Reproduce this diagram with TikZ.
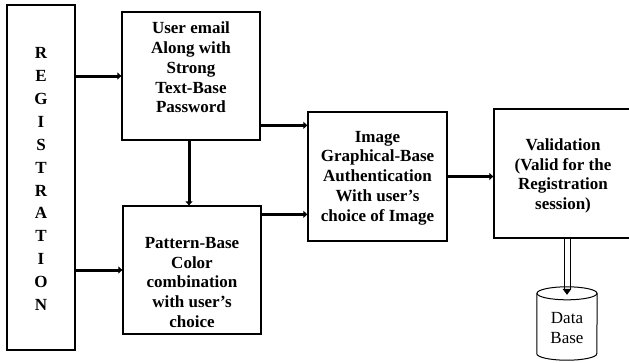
\documentclass[tikz,border=0pt]{standalone}
\usepackage{fontspec}
\setmainfont{Liberation Serif}
\usetikzlibrary{arrows.meta,calc}
\begin{document}
\begin{tikzpicture}[x=1pt,y=-1pt,
  box/.style={draw, line width=1.3pt, inner sep=0pt},
  lbl/.style={font=\fontsize{17}{19.8}\selectfont\bfseries, align=center, inner sep=0pt},
  flow/.style={line width=3pt, -{Triangle[length=4pt,width=7pt]}},
  rail/.style={line width=0.9pt},
]
\useasboundingbox (0,0) rectangle (629,362);
\clip (0,0) rectangle (629,362);

% process boxes
\node[box, minimum width=68pt,  minimum height=345pt] (reg)  at (41,177.5) {};
\node[box, minimum width=138pt, minimum height=128pt] (user) at (191,76) {};
\node[box, minimum width=138pt, minimum height=128pt] (pat)  at (192,270) {};
\node[box, minimum width=139pt, minimum height=129pt] (img)  at (377.5,176.5) {};
\node[box, minimum width=138pt, minimum height=129pt] (val)  at (563,173.5) {};

% box captions
\node[lbl, font=\fontsize{17}{22.9}\selectfont\bfseries] (regtxt) at (41,179)
  {R\\E\\G\\I\\S\\T\\R\\A\\T\\I\\O\\N};
\node[lbl] (usertxt) at (191,67.5) {User email\\Along with\\Strong\\Text-Base\\Password};
\node[lbl] (pattxt) at (192,282.5) {Pattern-Base\\Color\\combination\\with user’s\\choice};
\node[lbl] (imgtxt) at (377.5,178) {Image\\Graphical-Base\\Authentication\\With user’s\\choice of Image};
\node[lbl] (valtxt) at (563,176) {Validation\\(Valid for the\\Registration\\session)};

% data store
\node[minimum width=60pt, minimum height=73pt, inner sep=0pt] (db) at (567,323.5) {};
\draw[line width=1pt]
  ($(db.north west)+(0,6.5)$) -- ($(db.south west)+(0,-6.5)$)
  arc[start angle=180, end angle=0, x radius=30, y radius=6.5]
  -- ($(db.north east)+(0,6.5)$);
\draw[line width=1pt] ($(db.north)+(0,6.5)$) ellipse [x radius=30, y radius=6.5];
\node[font=\fontsize{17}{20}\selectfont, align=center, inner sep=0pt] (dbtxt) at (567,328) {Data\\Base};

% connectors
\draw[flow] (reg.east |- user.west) -- (user.west);
\draw[flow] (reg.east |- pat.west) -- (pat.west);
\coordinate (u0) at ($(user.south)+(-2,0)$);
\draw[flow] (u0) -- (u0 |- pat.north);
\coordinate (u1) at ($(user.north east)+(0,114)$);
\draw[flow] (u1) -- (img.west |- u1);
\coordinate (p1) at ($(pat.north east)+(0,9)$);
\draw[flow] (p1) -- (img.west |- p1);
\draw[flow] (img.east) -- (val.west |- img.east);

% hollow (double) connector into the data store
\coordinate (s0) at (db.north |- val.south);
\coordinate (s1) at ($(db.north)+(0,8)$);
\draw[rail] ($(s0)+(-3,0)$) -- ($(s1)+(-3,-5)$);
\draw[rail] ($(s0)+(3,0)$) -- ($(s1)+(3,-5)$);
\fill (s1) -- ($(s1)+(-4.5,-6)$) -- ($(s1)+(4.5,-6)$) -- cycle;
\end{tikzpicture}
\end{document}
